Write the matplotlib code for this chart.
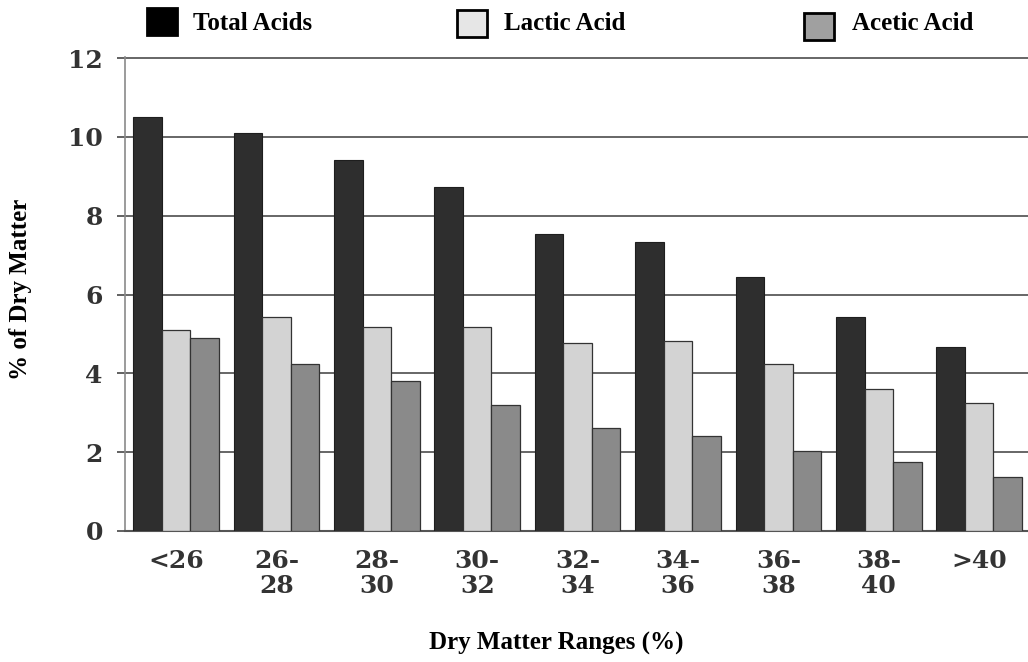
import numpy as np, matplotlib
matplotlib.use("Agg"); import matplotlib.pyplot as plt
from matplotlib.patches import Rectangle

ranges = ["<26", "26-\n28", "28-\n30", "30-\n32", "32-\n34", "34-\n36", "36-\n38", "38-\n40", ">40"]
total_acids = [10.5, 10.1, 9.42, 8.72, 7.53, 7.33, 6.44, 5.44, 4.66]
lactic_acid = [5.09, 5.44, 5.19, 5.17, 4.76, 4.83, 4.24, 3.6, 3.25]
acetic_acid = [4.9, 4.24, 3.81, 3.2, 2.61, 2.42, 2.03, 1.74, 1.36]
series = ["Total Acids", "Lactic Acid", "Acetic Acid"]

W, H = 1028, 662
fig = plt.figure(figsize=(W/100, H/100), dpi=100)
ax = fig.add_axes([125/W, 1-531/H, (W-125)/W, (531-57)/H])

x = np.arange(len(ranges)); w = 0.284
ax.bar(x-w, total_acids, w, color="#2e2e2e", edgecolor="#1e1e1e", lw=0.8, zorder=3)
ax.bar(x, lactic_acid, w, color="#d3d3d3", edgecolor="#333333", lw=0.9, zorder=3)
ax.bar(x+w, acetic_acid, w, color="#8a8a8a", edgecolor="#333333", lw=0.9, zorder=3)

ax.set_xlim(-0.508, 8.486); ax.set_ylim(0, 12.03)
ax.set_yticks(range(0, 13, 2))
ax.yaxis.grid(True, color="#5a5a5a", lw=1.3); ax.set_axisbelow(True)
for s in ("top", "right"): ax.spines[s].set_visible(False)
ax.spines["left"].set_color("#8a8a8a"); ax.spines["left"].set_linewidth(1.2)
ax.spines["bottom"].set_color("#555555"); ax.spines["bottom"].set_linewidth(1.5)

ax.set_xticks(x); ax.set_xticklabels(ranges)
for t in ax.get_xticklabels() + ax.get_yticklabels():
    t.set_fontfamily("DejaVu Serif"); t.set_fontweight("bold"); t.set_fontsize(18); t.set_color("#333333")
for t in ax.get_xticklabels(): t.set_linespacing(1.05)
ax.tick_params(axis="x", length=0, pad=13)
ax.tick_params(axis="y", length=6, width=1.3, color="#555555", pad=10)

# legend drawn by hand, spread across the top like the original
lab = dict(family="Liberation Serif", weight="bold", size=18, color="black")
legend_boxes = [(147, 8, "#000000"), (457, 10, "#e6e6e6"), (804, 13, "#a0a0a0")]
text_x = [193, 504, 852]
for (bx, by, c), tx, name in zip(legend_boxes, text_x, series):
    fig.add_artist(Rectangle((bx/W, 1-(by+27)/H), 30/W, 27/H, transform=fig.transFigure,
                             facecolor=c, edgecolor="black", lw=2))
    fig.text(tx/W, 1-23/H, name, ha="left", va="center", **lab)

fig.text(21/W, 1-289/H, "% of Dry Matter", rotation=90, ha="center", va="center", **lab)
fig.text(556/W, 1-643/H, "Dry Matter Ranges (%)", ha="center", va="center", **lab)

fig.savefig("out.png", dpi=100)
